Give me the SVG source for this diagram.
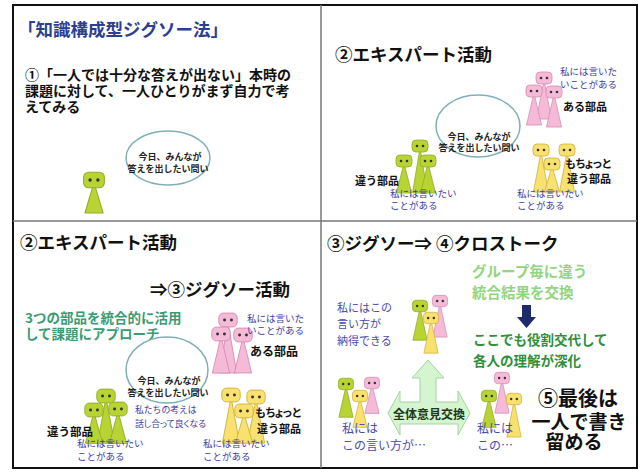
<svg xmlns="http://www.w3.org/2000/svg" xmlns:xlink="http://www.w3.org/1999/xlink" width="641" height="474" viewBox="0 0 641 474">
  <style>
    text { font-family: "Noto Sans CJK JP", "Noto Sans", sans-serif; }
    .b { font-weight: bold; }
    .head { font-size: 17.5px; font-weight: bold; fill: #111; }
    .blue { fill: #3a3aa6; }
    .blk { fill: #111; }
    .bubble { fill: #fff; stroke: #7fb0b5; stroke-width: 1.5; }
    .q { font-size: 9px; font-weight: bold; fill: #222; text-anchor: middle; }
    .fig { stroke-width: 0.8; stroke-linejoin: round; }
    .green { fill: #b7d433; stroke: #93ab2b; }
    .pink { fill: #f6bad9; stroke: #d48db3; }
    .yellow { fill: #f8e16f; stroke: #cfb23b; }
    .eye { fill: #333; stroke: none; }
    .frame { fill: none; stroke: #111; stroke-width: 2; }
    .divider { stroke: #777; stroke-width: 1.5; }
  </style>
  <defs>
    <g id="face">
      <rect x="-8" y="-6" width="16" height="12" rx="4"/>
      <circle class="eye" cx="-3" cy="0" r="1.3"/>
      <circle class="eye" cx="3" cy="0" r="1.3"/>
    </g>
  </defs>

  <rect width="641" height="474" fill="#fff"/>

  <!-- panel frame and dividers -->
  <g id="frame">
    <rect class="frame" x="13" y="5" width="624" height="463"/>
    <line class="divider" x1="321" y1="5" x2="321" y2="468"/>
    <line class="divider" x1="13" y1="221" x2="637" y2="221"/>
  </g>

  <!-- panel 1: individual work -->
  <g id="panel1">
    <text x="18" y="36" font-size="17.5" class="b" fill="#2c3e91">「知識構成型ジグソー法」</text>
    <text x="25" y="80" font-size="14" class="b blk">①「一人では十分な答えが出ない」本時の</text>
    <text x="25" y="96" font-size="14" class="b blk">課題に対して、一人ひとりがまず自力で考</text>
    <text x="25" y="112" font-size="14" class="b blk">えてみる</text>
    <g id="p1-question">
      <ellipse class="bubble" cx="168" cy="158" rx="42" ry="27"/>
      <text class="q" x="170" y="160">今日、みんなが</text>
      <text class="q" x="168" y="172">答えを出したい問い</text>
    </g>
    <g id="p1-learner" class="fig green" transform="translate(94,180) scale(1.3)">
      <polygon points="0,2 -7,25.4 7,25.4"/><use xlink:href="#face"/>
    </g>
  </g>

  <!-- panel 2: expert activity -->
  <g id="panel2">
    <text x="335" y="61" class="head">②エキスパート活動</text>
    <g id="p2-question">
      <ellipse class="bubble" cx="478" cy="126" rx="42" ry="31"/>
      <text class="q" x="479" y="140">今日、みんなが</text>
      <text class="q" x="479" y="151">答えを出したい問い</text>
    </g>
    <g id="p2-pink">
      <g class="fig pink" transform="translate(544,78)"><polygon points="0,2 -7.5,41 7.5,41"/><use xlink:href="#face"/></g>
      <g class="fig pink" transform="translate(534,91)"><polygon points="0,2 -7.5,34 7.5,34"/><use xlink:href="#face"/></g>
      <g class="fig pink" transform="translate(554,92)"><polygon points="0,2 -7.5,35 7.5,35"/><use xlink:href="#face"/></g>
      <text x="560" y="75" font-size="9.5" class="blue">私には言いた</text>
      <text x="560" y="88" font-size="9.5" class="blue">いことがある</text>
      <text x="563" y="111" font-size="11" class="b blk">ある部品</text>
    </g>
    <g id="p2-green">
      <g class="fig green" transform="translate(420,146)"><polygon points="0,2 -7.5,47 7.5,47"/><use xlink:href="#face"/></g>
      <g class="fig green" transform="translate(404,161)"><polygon points="0,2 -7.5,32 7.5,32"/><use xlink:href="#face"/></g>
      <g class="fig green" transform="translate(428,161)"><polygon points="0,2 -7.5,32 7.5,32"/><use xlink:href="#face"/></g>
      <text x="355" y="185" font-size="11" class="b blk">違う部品</text>
      <text x="390" y="197" font-size="9.5" class="blue">私には言いたい</text>
      <text x="390" y="209" font-size="9.5" class="blue">ことがある</text>
    </g>
    <g id="p2-yellow">
      <g class="fig yellow" transform="translate(541,150)"><polygon points="0,2 -7.5,42 7.5,42"/><use xlink:href="#face"/></g>
      <g class="fig yellow" transform="translate(567,150)"><polygon points="0,2 -7.5,42 7.5,42"/><use xlink:href="#face"/></g>
      <g class="fig yellow" transform="translate(552,164)"><polygon points="0,2 -7.5,28 7.5,28"/><use xlink:href="#face"/></g>
      <text x="565" y="168" font-size="11" class="b blk" style="font-feature-settings:'palt'">もちょっと</text>
      <text x="567" y="183" font-size="11" class="b blk">違う部品</text>
      <text x="517" y="197" font-size="9.5" class="blue">私には言いたい</text>
      <text x="517" y="209" font-size="9.5" class="blue">ことがある</text>
    </g>
  </g>

  <!-- panel 3: expert activity to jigsaw activity -->
  <g id="panel3">
    <text x="20" y="249" class="head">②エキスパート活動</text>
    <text x="150" y="296" class="head">⇒③ジグソー活動</text>
    <text x="25" y="323" font-size="13.5" class="b" fill="#3a9b74">3つの部品を統合的に活用</text>
    <text x="25" y="339" font-size="13.5" class="b" fill="#3a9b74">して課題にアプローチ</text>
    <g id="p3-question">
      <ellipse class="bubble" cx="167" cy="370" rx="41" ry="33"/>
      <text class="q" x="169" y="384">今日、みんなが</text>
      <text class="q" x="168" y="396">答えを出したい問い</text>
      <text x="135" y="413" font-size="8.8" class="blue">私たちの考えは</text>
      <text x="135" y="427" font-size="8.8" class="blue" style="font-feature-settings:'palt'">話し合って良くなる</text>
    </g>
    <g id="p3-pink">
      <g class="fig pink" transform="translate(228,320) scale(1.15)"><polygon points="0,2 -7.5,46 7.5,46"/><use xlink:href="#face"/></g>
      <g class="fig pink" transform="translate(221,334) scale(1.15)"><polygon points="0,2 -7.5,34 7.5,34"/><use xlink:href="#face"/></g>
      <g class="fig pink" transform="translate(243,335) scale(1.15)"><polygon points="0,2 -7.5,33 7.5,33"/><use xlink:href="#face"/></g>
      <text x="247" y="322" font-size="9.5" class="blue">私には言いた</text>
      <text x="247" y="334" font-size="9.5" class="blue">いことがある</text>
      <text x="250" y="356" font-size="12" class="b blk">ある部品</text>
    </g>
    <g id="p3-green">
      <g class="fig green" transform="translate(106,396) scale(1.15)"><polygon points="0,2 -7.5,41 7.5,41"/><use xlink:href="#face"/></g>
      <g class="fig green" transform="translate(94,410) scale(1.15)"><polygon points="0,2 -7.5,29 7.5,29"/><use xlink:href="#face"/></g>
      <g class="fig green" transform="translate(118,409) scale(1.15)"><polygon points="0,2 -7.5,30 7.5,30"/><use xlink:href="#face"/></g>
      <text x="47" y="436" font-size="11.5" class="b blk">違う部品</text>
      <text x="77" y="447" font-size="9.5" class="blue">私には言いたい</text>
      <text x="77" y="460" font-size="9.5" class="blue">ことがある</text>
    </g>
    <g id="p3-yellow">
      <g class="fig yellow" transform="translate(231,395) scale(1.15)"><polygon points="0,2 -7.5,42 7.5,42"/><use xlink:href="#face"/></g>
      <g class="fig yellow" transform="translate(256,397) scale(1.15)"><polygon points="0,2 -7.5,40 7.5,40"/><use xlink:href="#face"/></g>
      <g class="fig yellow" transform="translate(244,411) scale(1.15)"><polygon points="0,2 -7.5,28 7.5,28"/><use xlink:href="#face"/></g>
      <text x="255" y="417" font-size="11" class="b blk" style="font-feature-settings:'palt'">もちょっと</text>
      <text x="257" y="433" font-size="11" class="b blk">違う部品</text>
      <text x="203" y="447" font-size="9.5" class="blue">私には言いたい</text>
      <text x="203" y="460" font-size="9.5" class="blue">ことがある</text>
    </g>
  </g>

  <!-- panel 4: jigsaw to cross talk -->
  <g id="panel4">
    <text x="327" y="250" class="head">③ジグソー⇒ ④クロストーク</text>
    <text x="472" y="277" font-size="14.5" class="b" fill="#93d480">グループ毎に違う</text>
    <text x="472" y="298" font-size="14.5" class="b" fill="#93d480">統合結果を交換</text>
    <text x="473" y="345" font-size="13.5" class="b" fill="#2f8f3a">ここでも役割交代して</text>
    <text x="473" y="366" font-size="13.5" class="b" fill="#2f8f3a">各人の理解が深化</text>
    <g id="p4-top">
      <g class="fig pink" transform="translate(440,301) scale(0.95)"><polygon points="0,2 -7.5,38 7.5,38"/><use xlink:href="#face"/></g>
      <g class="fig green" transform="translate(420,306) scale(0.95)"><polygon points="0,2 -7.5,36 7.5,36"/><use xlink:href="#face"/></g>
      <g class="fig yellow" transform="translate(431,318) scale(0.95)"><polygon points="0,2 -7.5,37 7.5,37"/><use xlink:href="#face"/></g>
      <text x="337" y="312" font-size="11" fill="#4a4aa8">私にはこの</text>
      <text x="337" y="328" font-size="11" fill="#4a4aa8">言い方が</text>
      <text x="337" y="345" font-size="11" fill="#4a4aa8">納得できる</text>
    </g>
    <g id="p4-left">
      <g class="fig green" transform="translate(346,384) scale(0.95)"><polygon points="0,2 -7.5,35 7.5,35"/><use xlink:href="#face"/></g>
      <g class="fig pink" transform="translate(372,383) scale(0.95)"><polygon points="0,2 -7.5,32 7.5,32"/><use xlink:href="#face"/></g>
      <g class="fig yellow" transform="translate(360,396) scale(0.95)"><polygon points="0,2 -7.5,33 7.5,33"/><use xlink:href="#face"/></g>
      <text x="342" y="433" font-size="12" fill="#4a4aa8">私には</text>
      <text x="342" y="450" font-size="12" fill="#4a4aa8">この言い方が…</text>
    </g>
    <g id="p4-right">
      <g class="fig pink" transform="translate(502,378) scale(0.95)"><polygon points="0,2 -7.5,37 7.5,37"/><use xlink:href="#face"/></g>
      <g class="fig green" transform="translate(489,396) scale(0.95)"><polygon points="0,2 -7.5,33 7.5,33"/><use xlink:href="#face"/></g>
      <g class="fig yellow" transform="translate(514,399) scale(0.95)"><polygon points="0,2 -7.5,40 7.5,40"/><use xlink:href="#face"/></g>
      <text x="477" y="433" font-size="12" fill="#4a4aa8">私には</text>
      <text x="477" y="450" font-size="12" fill="#4a4aa8">この…</text>
    </g>
    <g id="p4-final">
      <text x="578" y="406" font-size="20" class="b blk" text-anchor="middle">⑤最後は</text>
      <text x="579" y="429" font-size="19" class="b blk" text-anchor="middle">一人で書き</text>
      <text x="574" y="449" font-size="19" class="b blk" text-anchor="middle">留める</text>
    </g>
  </g>

  <!-- arrows between groups -->
  <g id="connectors">
    <path d="M522,305 L531,305 L531,317 L536,317 L526.5,328 L517,317 L522,317 Z" fill="#1f2a6e"/>
    <path d="M428,360 L444,378 L436,378 L436,402 L458,402 L458,391 L470,413 L458,435 L458,424 L400,424 L400,435 L388,413 L400,391 L400,402 L420,402 L420,378 L412,378 Z" fill="#d5f5d0" stroke="#a5d3a0" stroke-width="1" stroke-linejoin="round"/>
    <text x="429" y="419" font-size="12" class="b" fill="#1d3a1d" text-anchor="middle">全体意見交換</text>
  </g>
</svg>
